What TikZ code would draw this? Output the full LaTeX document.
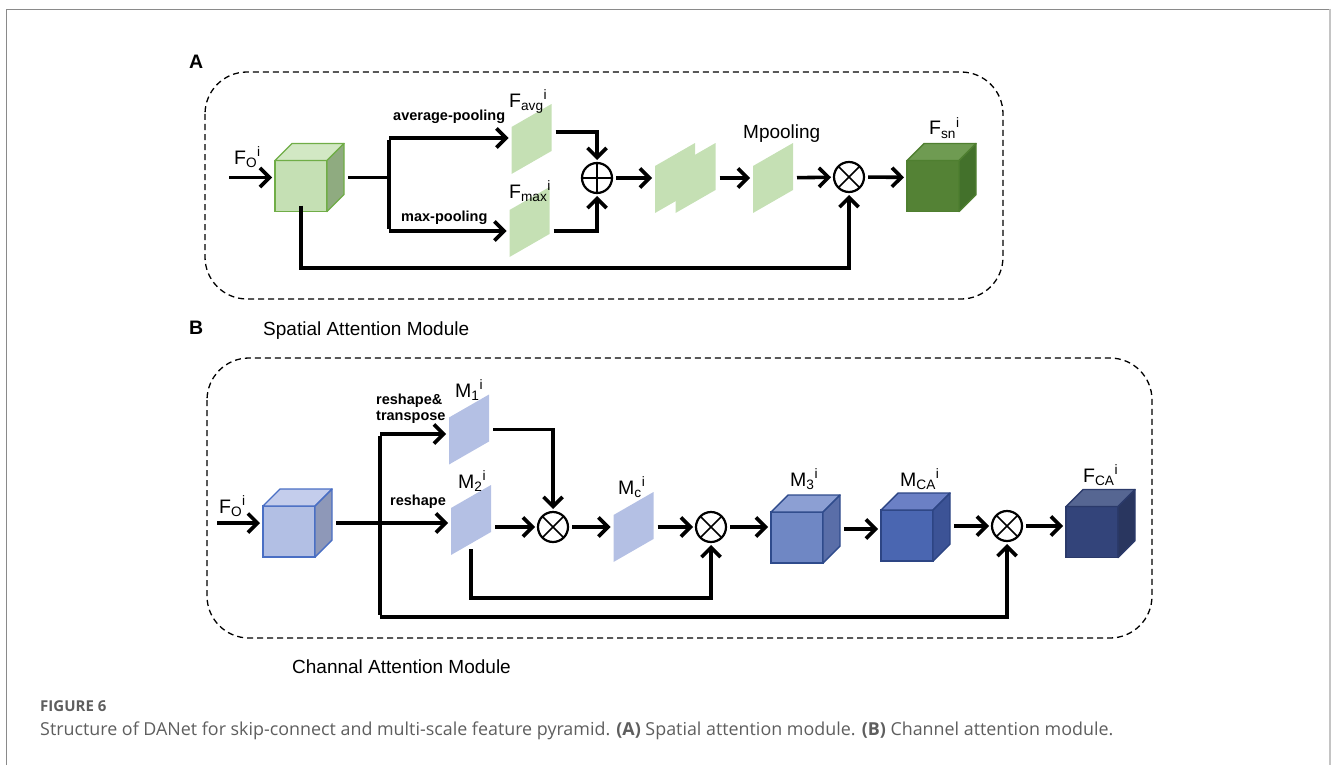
\documentclass[tikz,border=0pt]{standalone}
\usepackage{fontspec}
\setmainfont{Liberation Sans}
\newfontfamily\capfont{Open Sans}
\usetikzlibrary{arrows.meta,calc}

% colour sets for the cubes: <set>front, <set>top, <set>side, <set>edge
\definecolor{planeG}{HTML}{C5E0B4}
\definecolor{planeB}{HTML}{B4C0E4}
\definecolor{gAfront}{HTML}{C5E0B4}
\definecolor{gAtop}{HTML}{D2E8C4}
\definecolor{gAside}{HTML}{8FAB80}
\definecolor{gAedge}{HTML}{70AD47}
\definecolor{gBfront}{HTML}{548235}
\definecolor{gBtop}{HTML}{6F9B52}
\definecolor{gBside}{HTML}{43712B}
\definecolor{gBedge}{HTML}{4F7F30}
\definecolor{bAfront}{HTML}{B2BFE4}
\definecolor{bAtop}{HTML}{C4CDEC}
\definecolor{bAside}{HTML}{8E98B8}
\definecolor{bAedge}{HTML}{4A6FC4}
\definecolor{bBfront}{HTML}{6F87C4}
\definecolor{bBtop}{HTML}{8C9FD3}
\definecolor{bBside}{HTML}{5A6EA8}
\definecolor{bBedge}{HTML}{2F4B8C}
\definecolor{bCfront}{HTML}{4A66B1}
\definecolor{bCtop}{HTML}{6B80C5}
\definecolor{bCside}{HTML}{3C5396}
\definecolor{bCedge}{HTML}{2D4584}
\definecolor{bDfront}{HTML}{33447A}
\definecolor{bDtop}{HTML}{566692}
\definecolor{bDside}{HTML}{29365F}
\definecolor{bDedge}{HTML}{2B3A6A}
\definecolor{capgray}{HTML}{5E5E5E}
\definecolor{framedark}{HTML}{8A8A8A}
\definecolor{framelight}{HTML}{C4C4C4}

% a flat feature map: name, centre, fill
\newcommand\plane[3]{%
  \node[inner sep=0pt, outer sep=0pt, minimum width=40pt, minimum height=70pt] (#1) at (#2) {};
  \fill[#3] (#1.south west) -- ++(0,-47) -- (#1.north east) -- ++(0,47) -- cycle;
}
% a feature cube: name, centre of its whole outline, colour set
\newcommand\cube[3]{%
  \node[inner sep=0pt, outer sep=0pt, minimum width=69pt, minimum height=68pt] (#1) at (#2) {};
  \node[draw=#3edge, fill=#3front, line width=1.4pt, inner sep=0pt, outer sep=0pt,
        minimum width=52pt, minimum height=51pt, anchor=south west] (#1f) at (#1.south west) {};
  \filldraw[fill=#3top, draw=#3edge, line width=1.4pt, line join=round]
    (#1f.north west) -- ++(17,-17) -- ++(52,0) -- (#1f.north east) -- cycle;
  \filldraw[fill=#3side, draw=#3edge, line width=1.4pt, line join=round]
    (#1f.north east) -- ++(17,-17) -- ++(0,51) -- (#1f.south east) -- cycle;
}

\begin{document}
\begin{tikzpicture}[x=1pt, y=-1pt,
  wire/.style={line width=3.6pt},
  conn/.style={line width=3.6pt, -{Straight Barb[length=9.5pt,width=19pt]}, shorten >=3pt},
  gap/.style={shorten <=4pt},
  dashbox/.style={dash pattern=on 6pt off 4pt, line width=1.3pt, rounded corners=42pt},
  opnode/.style={circle, draw, line width=2.2pt, minimum size=30pt, inner sep=0pt, outer sep=0pt},
  otimes/.style={opnode, path picture={\draw[line width=1.7pt]
      (path picture bounding box.north west) -- (path picture bounding box.south east)
      (path picture bounding box.north east) -- (path picture bounding box.south west);}},
  oplus/.style={opnode, path picture={\draw[line width=1.7pt]
      (path picture bounding box.north) -- (path picture bounding box.south)
      (path picture bounding box.east) -- (path picture bounding box.west);}},
  lab/.style={font=\fontsize{19.5}{22}\selectfont, inner sep=0pt, anchor=base west},
  oplab/.style={font=\bfseries\fontsize{14.5}{17}\selectfont, inner sep=0pt, anchor=base west},
  title/.style={font=\fontsize{19}{22}\selectfont, inner sep=0pt, anchor=base west},
  panel/.style={font=\bfseries\fontsize{19.5}{22}\selectfont, inner sep=0pt, anchor=base west}]
\useasboundingbox (0,0) rectangle (1332,765);

% page frame
\draw[framedark, line width=1pt] (6.5,765) -- (6.5,9.5) -- (1329,9.5);
\draw[framelight, line width=2pt] (1329.5,9) -- (1329.5,765);

% ---------------- (A) spatial attention ----------------
\node[panel] (tA) at (189,69) {A};
\draw[dashbox] (205,72) rectangle (1003,299);
\node[title] (nameA) at (263,335) {Spatial Attention Module};

\cube{cubeA}{309.5,177.5}{gA}
\plane{favg}{531.5,139}{planeG}
\plane{fmax}{529.5,222}{planeG}
\node[oplus] (opl) at (597,178) {};
\plane{st1}{675,178}{planeG}
\plane{st2}{695.5,178}{planeG}
\plane{mpool}{773,178}{planeG}
\node[otimes] (otA) at (849,177) {};
\cube{cubeS}{941.5,177.5}{gB}

\node[lab] (lFo) at (234,164) {F\textsubscript{O}\textsuperscript{i}};
\node[lab] (lFavg) at (509,107) {F\textsubscript{avg}\textsuperscript{i}};
\node[lab] (lFmax) at (509,198) {F\textsubscript{max}\textsuperscript{i}};
\node[title] (lMp) at (743,139) {Mpooling};
\node[lab] (lFsn) at (929,135) {F\textsubscript{sn}\textsuperscript{i}};
\node[oplab] (lavgp) at (393,121) {average-pooling};
\node[oplab] (lmaxp) at (401,221) {max-pooling};

\coordinate (inA) at (229,177.5);
\coordinate (brA1) at (389,138);
\coordinate (brA2) at (389,231);
\coordinate (kA) at (600,268);

\draw[conn] (inA) -- (cubeA);
\draw[wire, gap] (cubeA.east) -- (cubeA.east -| brA1);
\draw[wire] ([yshift=-1.8]brA1) -- ([yshift=1.8]brA2);
\draw[conn] (brA1) -- (brA1 -| favg.west);
\draw[conn] (brA2) -- (brA2 -| fmax.west);
\draw[conn] ([shift={(4,-7)}]favg.east) -| (opl.north);
\draw[conn] ([shift={(4,9)}]fmax.east) -| (opl.south);
\draw[conn, gap] (opl) -- (st1);
\draw[conn, gap] (st2) -- (mpool);
\draw[conn, gap] (mpool) -- (otA);
\draw[conn, gap] (otA) -- (cubeS);
\draw[conn] ([yshift=6]cubeAf.south) |- (kA) -| (otA.south);

% ---------------- (B) channel attention ----------------
\node[panel] (tB) at (189,334) {B};
\draw[dashbox] (207,358) rectangle (1152,638);
\node[title] (nameB) at (292,673) {Channal Attention Module};

\cube{cubeB}{297.5,523}{bA}
\plane{m1}{469,429.5}{planeB}
\plane{m2}{471,520}{planeB}
\node[otimes] (ot1) at (553,527) {};
\plane{mc}{633.5,527}{planeB}
\node[otimes] (ot2) at (711,527) {};
\cube{m3}{805.5,529}{bB}
\cube{mca}{915.5,527}{bC}
\node[otimes] (ot3) at (1007,526) {};
\cube{fca}{1100.5,523.5}{bD}

\node[lab] (lFoB) at (219,513) {F\textsubscript{O}\textsuperscript{i}};
\node[lab] (lM1) at (455,397) {M\textsubscript{1}\textsuperscript{i}};
\node[lab] (lM2) at (458,488) {M\textsubscript{2}\textsuperscript{i}};
\node[lab] (lMc) at (618,494) {M\textsubscript{c}\textsuperscript{i}};
\node[lab] (lM3) at (790,486) {M\textsubscript{3}\textsuperscript{i}};
\node[lab] (lMca) at (900,486) {M\textsubscript{CA}\textsuperscript{i}};
\node[lab] (lFca) at (1083,482) {F\textsubscript{CA}\textsuperscript{i}};
\node[oplab] (lrs1) at (376,404) {reshape\&};
\node[oplab] (lrs2) at (376,420) {transpose};
\node[oplab] (lrs) at (390,505) {reshape};

\coordinate (inB) at (217,523);
\coordinate (brB1) at (380,434);
\coordinate (brB2) at (380,617);
\coordinate (kB) at (600,598);

\draw[conn] (inB) -- (cubeB);
\draw[conn, gap] (cubeB.east) -- (cubeB.east -| m2.west);
\draw[wire] ([yshift=-1.8]brB1) -- ([yshift=1.8]brB2);
\draw[conn] (brB1) -- (brB1 -| m1.west);
\draw[conn] (brB2) -| (ot3.south);
\draw[conn, gap] (m1.east) -| (ot1.north);
\draw[conn, gap] (m2.east |- ot1.west) -- (ot1.west);
\draw[conn, gap] (ot1) -- (mc);
\draw[conn, gap] (mc) -- (ot2);
\draw[conn] ([yshift=6]m2.south) |- (kB) -| (ot2.south);
\draw[conn, gap] (ot2.east) -- (ot2.east -| m3.west);
\draw[conn, gap] (m3.east) -- (m3.east -| mca.west);
\draw[conn, gap] (mca.east |- ot3.west) -- (ot3.west);
\draw[conn, gap] (ot3.east) -- (ot3.east -| fca.west);

% ---------------- caption ----------------
\node[inner sep=0pt, anchor=base west, text=capgray, font=\capfont\bfseries\fontsize{15}{17}\selectfont] (fig) at (40,711) {FIGURE 6};
\node[inner sep=0pt, anchor=base west, text=capgray] (cap) at (40,735)
  {\resizebox{1073pt}{!}{\capfont\fontsize{16}{19}\selectfont Structure of DANet for skip-connect and multi-scale feature pyramid. \textbf{(A)} Spatial attention module. \textbf{(B)} Channel attention module.}};
\end{tikzpicture}
\end{document}
